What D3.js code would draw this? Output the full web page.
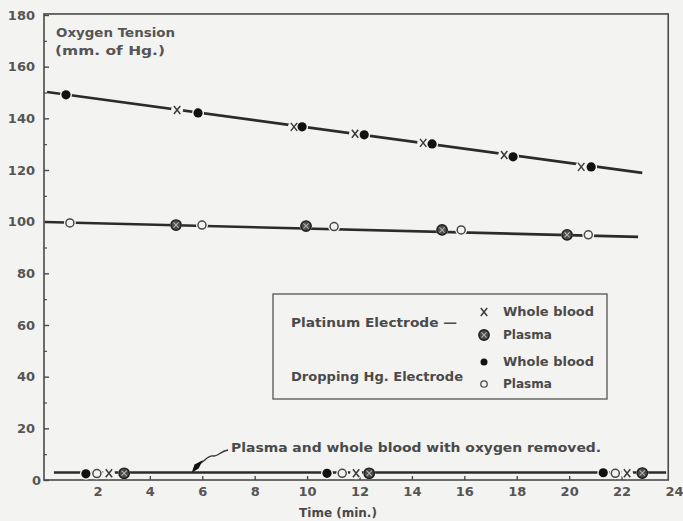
<!DOCTYPE html>
<html>
<head>
<meta charset="utf-8">
<script src="https://cdn.jsdelivr.net/npm/d3@7"></script>
<style>
  html, body { margin: 0; padding: 0; background: #f3f3f1; }
  svg { display: block; font-family: "DejaVu Sans", sans-serif; }
</style>
</head>
<body>
<div id="chart"></div>
<script>
// axis ticks
const yMajor = [0, 20, 40, 60, 80, 100, 120, 140, 160, 180]
const yMinor = [10, 30, 50, 70, 90, 110, 130, 150, 170]
const xTicks = [2, 4, 6, 8, 10, 12, 14, 16, 18, 20, 22, 24]

// [time (min), oxygen tension (mm Hg)]
const platinumWhole = [[5.04, 143.2], [9.5, 136.7], [11.83, 134.0], [14.43, 130.5], [17.52, 125.8], [20.46, 121.2]]
const platinumPlasma = [[5.0, 98.7], [9.96, 98.3], [15.15, 96.8], [19.92, 94.9]]
const mercuryWhole = [[0.8, 149.1], [5.84, 142.1], [9.81, 136.7], [12.18, 133.6], [14.77, 130.1], [17.86, 125.1], [20.84, 121.2]]
const mercuryPlasma = [[0.95, 99.5], [5.99, 98.7], [11.03, 98.1], [15.88, 96.8], [20.73, 94.9]]

// oxygen removed
const removedPlatWhole = [[2.44, 2.6], [11.87, 2.6], [22.21, 2.6]]
const removedPlatPlasma = [[3.02, 2.6], [12.37, 2.6], [22.79, 2.7]]
const removedHgWhole = [[1.56, 2.4], [10.76, 2.6], [21.3, 2.8]]
const removedHgPlasma = [[1.98, 2.5], [11.34, 2.6], [21.76, 2.6]]

// drawn trend lines
const lineHigh = [[0.08, 150.2], [22.79, 118.9]]
const lineMid = [[0.0, 99.9], [22.63, 94.1]]
const lineLow = [[0.34, 2.9], [23.7, 2.9]]

const bg = '#f3f3f1'
const ink = '#2b2b2b'
const textInk = '#4a4a4a'

const params = { width: 683, height: 521 }

const svg = d3.select('#chart')
  .append('svg')
  .attr('width', params.width)
  .attr('height', params.height)
  .style('background', bg)

const x = d3.scaleLinear().domain([0, 24]).range([45, 674])
const y = d3.scaleLinear().domain([0, 180]).range([480, 15])

// frame
svg.append('rect')
  .attr('x', x(0) - 1)
  .attr('y', y(180.4))
  .attr('width', x(23.78) - x(0) + 1)
  .attr('height', y(0) - y(180.4))
  .attr('fill', 'none')
  .attr('stroke', '#4a4a4a')
  .attr('stroke-width', 1.6)

// y axis
const yAxis = svg.append('g')
  .attr('transform', `translate(${x(0) - 1},0)`)
  .call(d3.axisLeft(y).tickValues(yMajor).tickSize(-5).tickPadding(9).tickFormat(d3.format('d')))
yAxis.select('.domain').remove()
yAxis.selectAll('.tick line').attr('stroke', '#4a4a4a').attr('stroke-width', 1.4)
yAxis.selectAll('.tick text')
  .attr('fill', '#555')
  .attr('font-size', 13)
  .attr('font-weight', 'bold')
  .attr('font-family', '"DejaVu Sans", sans-serif')
  .attr('x', d => d === 0 ? -3 : -9)

const yMinorAxis = svg.append('g')
  .attr('transform', `translate(${x(0) - 1},0)`)
  .call(d3.axisLeft(y).tickValues(yMinor).tickSize(-3).tickFormat(''))
yMinorAxis.select('.domain').remove()
yMinorAxis.selectAll('.tick line').attr('stroke', '#4a4a4a').attr('stroke-width', 1.2)

// x axis
const xAxis = svg.append('g')
  .attr('transform', `translate(0,${y(0)})`)
  .call(d3.axisBottom(x).tickValues(xTicks).tickSize(-4).tickPadding(7).tickFormat(d3.format('d')))
xAxis.select('.domain').remove()
xAxis.selectAll('.tick line').attr('stroke', '#4a4a4a').attr('stroke-width', 1.4)
xAxis.selectAll('.tick').filter(d => d === 24).select('line').remove()
xAxis.selectAll('.tick text')
  .attr('fill', '#555')
  .attr('font-size', 13)
  .attr('font-weight', 'bold')
  .attr('font-family', '"DejaVu Sans", sans-serif')

// axis titles
svg.append('text')
  .attr('x', 56).attr('y', 37)
  .attr('textLength', 119).attr('lengthAdjust', 'spacingAndGlyphs')
  .attr('font-size', 12).attr('font-weight', 'bold').attr('fill', '#555')
  .text('Oxygen Tension')
svg.append('text')
  .attr('x', 55).attr('y', 55)
  .attr('textLength', 110).attr('lengthAdjust', 'spacingAndGlyphs')
  .attr('font-size', 12).attr('font-weight', 'bold').attr('fill', '#555')
  .text('(mm. of Hg.)')
svg.append('text')
  .attr('x', 338).attr('y', 517)
  .attr('text-anchor', 'middle')
  .attr('font-size', 12).attr('font-weight', 'bold').attr('fill', textInk)
  .text('Time (min.)')

// trend lines
const line = d3.line().x(d => x(d[0])).y(d => y(d[1]))
svg.append('g')
  .selectAll('path')
  .data([lineHigh, lineMid, lineLow])
  .enter()
  .append('path')
  .attr('d', line)
  .attr('fill', 'none')
  .attr('stroke', ink)
  .attr('stroke-width', 2.6)

// gaps around markers
const allPoints = [].concat(platinumWhole, platinumPlasma, mercuryWhole, mercuryPlasma,
  removedPlatWhole, removedPlatPlasma, removedHgWhole, removedHgPlasma)
svg.append('g')
  .selectAll('circle')
  .data(allPoints)
  .enter()
  .append('circle')
  .attr('cx', d => x(d[0]))
  .attr('cy', d => y(d[1]))
  .attr('r', 6)
  .attr('fill', bg)

// marker drawers
function drawCross(g) {
  g.append('path')
    .attr('d', 'M-3.2,-4L3.2,4M3.2,-4L-3.2,4')
    .attr('stroke', '#3a3a3a')
    .attr('stroke-width', 1.5)
    .attr('fill', 'none')
}
function drawCircleCross(g) {
  g.append('circle').attr('r', 5.2).attr('fill', '#4a4a4a').attr('stroke', '#1e1e1e').attr('stroke-width', 1.4)
  g.append('path')
    .attr('d', 'M-2.6,-2.6L2.6,2.6M2.6,-2.6L-2.6,2.6')
    .attr('stroke', '#b5b5b5')
    .attr('stroke-width', 1.1)
}
function drawDot(g) {
  g.append('circle').attr('r', 4.6).attr('fill', '#111')
}
function drawOpen(g) {
  g.append('circle').attr('r', 4).attr('fill', bg).attr('stroke', '#4a4a4a').attr('stroke-width', 1.5)
}

const series = [
  { data: platinumWhole.concat(removedPlatWhole), draw: drawCross },
  { data: platinumPlasma.concat(removedPlatPlasma), draw: drawCircleCross },
  { data: mercuryWhole.concat(removedHgWhole), draw: drawDot },
  { data: mercuryPlasma.concat(removedHgPlasma), draw: drawOpen },
]

series.forEach(s => {
  svg.append('g')
    .selectAll('g')
    .data(s.data)
    .enter()
    .append('g')
    .attr('transform', d => `translate(${x(d[0])},${y(d[1])})`)
    .each(function () { s.draw(d3.select(this)) })
})

// annotation for the removed-oxygen line
const tip = [x(5.65), y(3.5)]
svg.append('text')
  .attr('x', tip[0] + 38).attr('y', tip[1] - 19)
  .attr('textLength', 370).attr('lengthAdjust', 'spacingAndGlyphs')
  .attr('font-size', 12).attr('font-weight', 'bold').attr('fill', textInk)
  .text('Plasma and whole blood with oxygen removed.')
svg.append('path')
  .attr('d', `M${tip[0] + 35},${tip[1] - 21} C${tip[0] + 27},${tip[1] - 20} ${tip[0] + 25},${tip[1] - 14} ${tip[0] + 20},${tip[1] - 15}
              C${tip[0] + 15},${tip[1] - 16} ${tip[0] + 12},${tip[1] - 10} ${tip[0] + 6},${tip[1] - 7}`)
  .attr('fill', 'none')
  .attr('stroke', '#333')
  .attr('stroke-width', 1.4)
svg.append('path')
  .attr('d', `M${tip[0] + 8},${tip[1] - 9} L${tip[0] + 2},${tip[1] - 6} L${tip[0]},${tip[1]} L${tip[0] + 5},${tip[1] - 3} Z`)
  .attr('fill', '#111')
  .attr('stroke', '#111')
  .attr('stroke-width', 1.5)

// legend
const legend = svg.append('g')
legend.append('rect')
  .attr('x', 273).attr('y', 294)
  .attr('width', 334).attr('height', 105)
  .attr('fill', 'none')
  .attr('stroke', '#555')
  .attr('stroke-width', 1.3)

legend.append('text')
  .attr('x', 291).attr('y', 327)
  .attr('textLength', 166).attr('lengthAdjust', 'spacingAndGlyphs')
  .attr('font-size', 11.5).attr('font-weight', 'bold').attr('fill', textInk)
  .text('Platinum Electrode —')
legend.append('text')
  .attr('x', 291).attr('y', 381)
  .attr('textLength', 172).attr('lengthAdjust', 'spacingAndGlyphs')
  .attr('font-size', 11.5).attr('font-weight', 'bold').attr('fill', textInk)
  .text('Dropping Hg. Electrode')

const legendRows = [
  { label: 'Whole blood', yPos: 316, draw: drawCross },
  { label: 'Plasma', yPos: 339, draw: drawCircleCross },
  { label: 'Whole blood', yPos: 366, draw: drawDot },
  { label: 'Plasma', yPos: 388, draw: drawOpen },
]
legendRows.forEach(r => {
  const g = legend.append('g').attr('transform', `translate(484,${r.yPos - 4})`)
  if (r.draw === drawDot) {
    g.append('circle').attr('r', 3.5).attr('fill', '#111')
  } else if (r.draw === drawOpen) {
    g.append('circle').attr('r', 3.2).attr('fill', bg).attr('stroke', '#4a4a4a').attr('stroke-width', 1.3)
  } else {
    r.draw(g)
  }
  legend.append('text')
    .attr('x', 503).attr('y', r.yPos)
    .attr('textLength', r.label === 'Plasma' ? 49 : 91).attr('lengthAdjust', 'spacingAndGlyphs')
    .attr('font-size', 11.5).attr('font-weight', 'bold').attr('fill', textInk)
    .text(r.label)
})
</script>
</body>
</html>
